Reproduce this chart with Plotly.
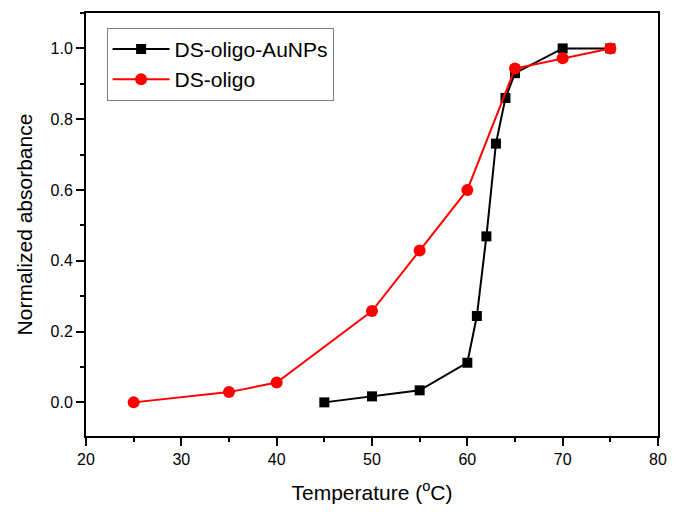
import plotly.graph_objects as go

# Melting curves: temperature (°C) vs normalized absorbance
temp_aunp = [45, 50, 55, 60, 61, 62, 63, 64, 65, 70, 75]
abs_aunp = [0.0, 0.017, 0.034, 0.112, 0.244, 0.469, 0.731, 0.860, 0.930, 1.0, 1.0]

temp_oligo = [25, 35, 40, 50, 55, 60, 65, 70, 75]
abs_oligo = [0.0, 0.029, 0.056, 0.258, 0.429, 0.600, 0.943, 0.972, 1.0]

x_ticks = [20, 30, 40, 50, 60, 70, 80]
y_ticks = [0.0, 0.2, 0.4, 0.6, 0.8, 1.0]

FONT = "Liberation Sans, Arial, sans-serif"

fig = go.Figure()
fig.add_trace(go.Scatter(
    x=temp_aunp, y=abs_aunp, mode="lines+markers", name="DS-oligo-AuNPs",
    line=dict(color="black", width=2),
    marker=dict(symbol="square", size=10, color="black"),
))
fig.add_trace(go.Scatter(
    x=temp_oligo, y=abs_oligo, mode="lines+markers", name="DS-oligo",
    line=dict(color="#ff0000", width=2),
    marker=dict(symbol="circle", size=12, color="#ff0000"),
))

fig.update_layout(
    width=678, height=512,
    margin=dict(l=86, r=12, t=11, b=74),
    paper_bgcolor="white", plot_bgcolor="white",
    font=dict(family=FONT, color="black"),
    showlegend=True,
    legend=dict(
        x=0.036, y=0.965, xanchor="left", yanchor="top",
        bgcolor="white", bordercolor="#808080", borderwidth=1,
        font=dict(size=21, family=FONT),
        tracegroupgap=0, itemwidth=57,
    ),
)

fig.update_xaxes(
    range=[20, 80], tickvals=x_ticks, ticktext=[str(v) for v in x_ticks],
    showline=True, linecolor="black", linewidth=2, mirror=True,
    ticks="outside", ticklen=8, tickwidth=1.5, tickcolor="black",
    minor=dict(ticks="outside", ticklen=4, tickwidth=1.5, tickcolor="black", dtick=5, showgrid=False),
    showgrid=False, zeroline=False,
    tickfont=dict(size=16, family=FONT),
    title=dict(text="Temperature (<sup>o</sup>C)", font=dict(size=21, family=FONT), standoff=18),
)
fig.update_yaxes(
    range=[-0.095, 1.1], tickvals=y_ticks, ticktext=[f"{v:.1f}" for v in y_ticks],
    showline=True, linecolor="black", linewidth=2, mirror=True,
    ticks="outside", ticklen=8, tickwidth=1.5, tickcolor="black",
    minor=dict(ticks="outside", ticklen=4, tickwidth=1.5, tickcolor="black", dtick=0.1, showgrid=False),
    showgrid=False, zeroline=False,
    tickfont=dict(size=16, family=FONT),
    title=dict(text="Normalized absorbance", font=dict(size=21, family=FONT), standoff=12),
)

fig.write_html("out.html")
